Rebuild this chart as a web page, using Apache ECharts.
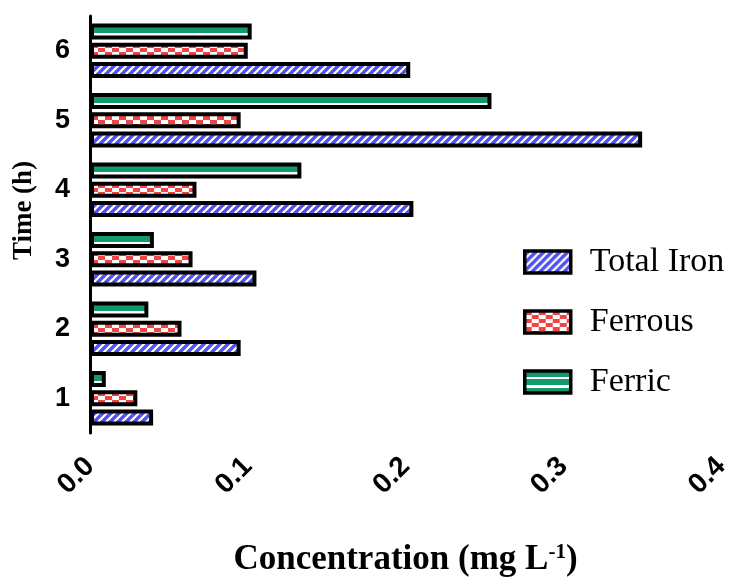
<!DOCTYPE html>
<html>
<head>
<meta charset="utf-8">
<script src="https://cdn.jsdelivr.net/npm/echarts@6/dist/echarts.min.js"></script>
<style>
  html, body { margin: 0; padding: 0; background: #fff; }
  #chart { width: 734px; height: 577px; }
</style>
</head>
<body>
<div id="chart"></div>
<script>
const hours = ['1', '2', '3', '4', '5', '6'];
const totalIron = [0.040, 0.0955, 0.1055, 0.205, 0.350, 0.203];
const ferrous = [0.030, 0.058, 0.065, 0.0675, 0.0955, 0.100];
const ferric = [0.010, 0.037, 0.0405, 0.134, 0.2545, 0.1025];
const xTicks = [0, 0.1, 0.2, 0.3, 0.4];

const BLUE = '#5252f2';
const RED = '#f24444';
const GREEN = '#14996a';

// patterns for the bar fills
const stripes = () => {
  const c = document.createElement('canvas');
  c.width = 8; c.height = 8;
  const g = c.getContext('2d');
  g.fillStyle = BLUE;
  g.fillRect(0, 0, 8, 8);
  g.strokeStyle = '#fff';
  g.lineWidth = 2.2;
  [[0, 8, 8, 0], [-2, 2, 2, -2], [6, 10, 10, 6]].forEach(l => {
    g.beginPath(); g.moveTo(l[0], l[1]); g.lineTo(l[2], l[3]); g.stroke();
  });
  return { image: c, repeat: 'repeat' };
};

const checker = () => {
  const c = document.createElement('canvas');
  c.width = 14; c.height = 8;
  const g = c.getContext('2d');
  g.fillStyle = '#fff';
  g.fillRect(0, 0, 14, 8);
  g.fillStyle = RED;
  g.fillRect(0, 0, 7, 4);
  g.fillRect(7, 4, 7, 4);
  return { image: c, repeat: 'repeat' };
};

const ferricFill = {
  type: 'linear', x: 0, y: 0, x2: 0, y2: 1,
  colorStops: [
    { offset: 0, color: GREEN }, { offset: 0.62, color: GREEN },
    { offset: 0.62, color: '#fff' }, { offset: 0.8, color: '#fff' },
    { offset: 0.8, color: GREEN }, { offset: 1, color: GREEN }
  ]
};
const ferricLegend = {
  type: 'linear', x: 0, y: 0, x2: 0, y2: 1,
  colorStops: [
    { offset: 0, color: GREEN }, { offset: 0.3, color: GREEN },
    { offset: 0.3, color: '#fff' }, { offset: 0.4, color: '#fff' },
    { offset: 0.4, color: GREEN }, { offset: 0.62, color: GREEN },
    { offset: 0.62, color: '#fff' }, { offset: 0.72, color: '#fff' },
    { offset: 0.72, color: GREEN }, { offset: 1, color: GREEN }
  ]
};

const barStyle = fill => ({ color: fill, borderColor: '#000', borderWidth: 4 });

const chart = echarts.init(document.getElementById('chart'));

chart.setOption({
  animation: false,
  grid: { left: 90, right: 13, top: 16, bottom: 144, outerBoundsMode: 'none' },
  legend: {
    orient: 'vertical',
    left: 518,
    top: 240,
    icon: 'rect',
    itemWidth: 46,
    itemHeight: 22,
    itemGap: 26,
    itemStyle: { borderColor: '#000', borderWidth: 3.5 },
    textStyle: {
      fontFamily: 'Liberation Serif', fontSize: 34, color: '#000',
      lineHeight: 22, padding: [0, 0, 0, 14]
    },
    data: [
      { name: 'Total Iron' },
      { name: 'Ferrous' },
      { name: 'Ferric', itemStyle: { color: ferricLegend } }
    ]
  },
  xAxis: {
    type: 'value',
    min: 0,
    max: 0.4,
    interval: 0.1,
    name: '{t|Concentration (mg L}{s|-1}{t|)}',
    nameLocation: 'middle',
    nameGap: 109,
    nameTextStyle: {
      rich: {
        t: { fontFamily: 'Liberation Serif', fontWeight: 'bold', fontSize: 35, color: '#000' },
        s: { fontFamily: 'Liberation Serif', fontWeight: 'bold', fontSize: 21, color: '#000', verticalAlign: 'top', padding: [0, 0, 15, 0] }
      }
    },
    splitLine: { show: false },
    axisLine: { lineStyle: { color: '#000', width: 3 } },
    axisTick: { length: 11, lineStyle: { color: '#000', width: 3 } },
    axisLabel: {
      rotate: 45,
      margin: 29,
      fontFamily: 'Liberation Sans',
      fontWeight: 'bold',
      fontSize: 28,
      color: '#000',
      formatter: v => v.toFixed(1)
    }
  },
  yAxis: {
    type: 'category',
    data: hours,
    name: 'Time (h)',
    nameLocation: 'middle',
    nameGap: 52,
    nameTextStyle: {
      fontFamily: 'Liberation Serif', fontWeight: 'bold', fontSize: 27, color: '#000',
      padding: [0, 0, 0, 28]
    },
    axisLine: { lineStyle: { color: '#000', width: 3 } },
    axisTick: { alignWithLabel: true, length: 10, lineStyle: { color: '#000', width: 3 } },
    axisLabel: {
      margin: 20,
      fontFamily: 'Liberation Sans',
      fontWeight: 'bold',
      fontSize: 27,
      color: '#000'
    }
  },
  // first series is drawn at the top of each band
  series: [
    {
      name: 'Ferric', type: 'bar', data: ferric,
      barWidth: 16, barGap: '20%',
      itemStyle: barStyle(ferricFill)
    },
    {
      name: 'Ferrous', type: 'bar', data: ferrous,
      barWidth: 16, barGap: '20%',
      itemStyle: barStyle(checker())
    },
    {
      name: 'Total Iron', type: 'bar', data: totalIron,
      barWidth: 16, barGap: '20%',
      itemStyle: barStyle(stripes())
    }
  ]
});
</script>
</body>
</html>
